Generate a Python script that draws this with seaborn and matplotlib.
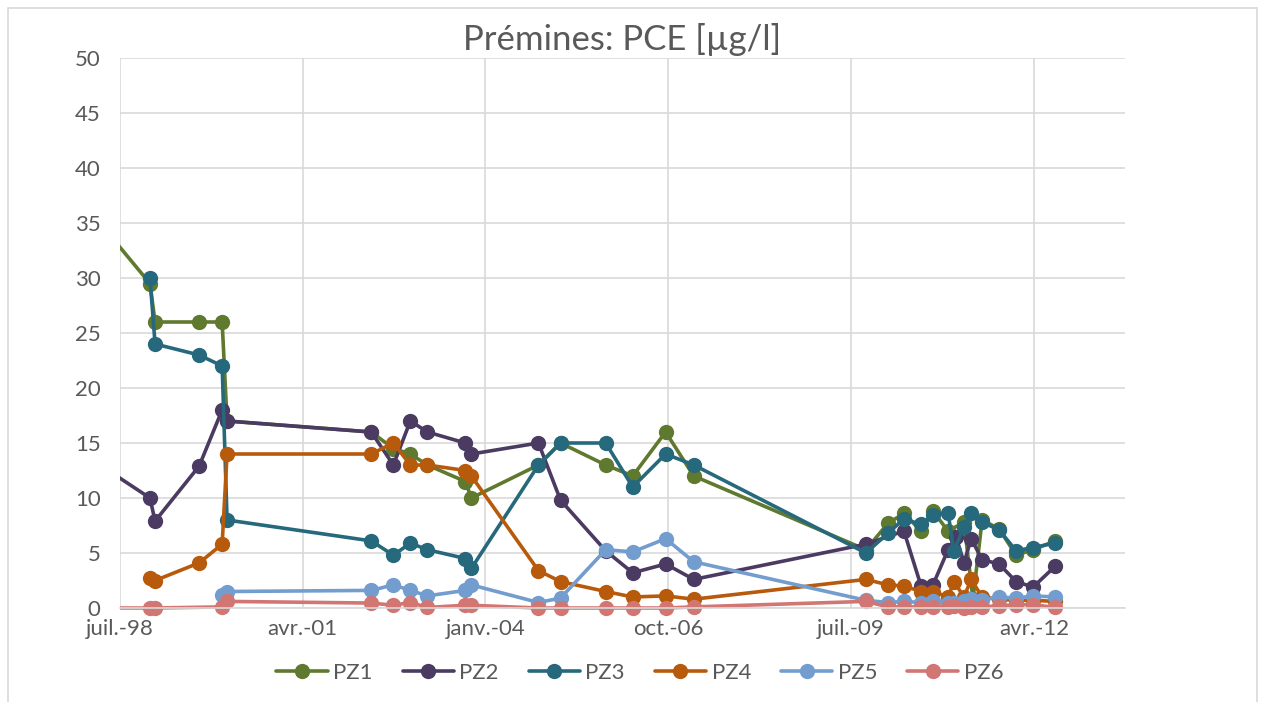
import matplotlib
matplotlib.use("Agg")
import matplotlib.pyplot as plt
import seaborn as sns
import pandas as pd
import numpy as np
from matplotlib.patches import Rectangle

# ---------------- data ----------------
series_names = ["PZ1", "PZ2", "PZ3", "PZ4", "PZ5", "PZ6"]
colors = ["#5F7A2F", "#4B3A62", "#26687C", "#B85A0B", "#739CCF", "#D27674"]

pz1_dates = ["1998-01-05", "1999-01-04", "1999-02-01", "1999-09-30", "2000-02-03", "2000-03-01",
             "2002-04-29", "2002-08-28", "2002-11-29", "2003-03-02", "2003-09-26", "2003-10-29",
             "2004-10-30", "2005-02-28", "2005-11-02", "2006-03-30", "2006-09-26", "2007-02-27",
             "2009-09-26", "2010-01-25", "2010-04-22", "2010-07-25", "2010-09-28", "2010-12-20",
             "2011-03-17", "2011-05-05", "2011-06-24", "2011-09-25", "2011-12-27", "2012-03-29",
             "2012-07-28"]
pz1_values = [36.8, 29.5, 26.0, 26.0, 26.0, 17.0,
              16.0, 14.5, 14.0, 13.0, 11.5, 10.0,
              13.0, 15.0, 13.0, 12.0, 16.0, 12.0,
              5.3, 7.7, 8.6, 7.0, 8.8, 7.0,
              7.8, 0.8, 8.0, 7.2, 4.8, 5.3,
              6.1]

pz2_dates = ["1998-01-05", "1999-01-04", "1999-02-01", "1999-09-30", "2000-02-03", "2000-03-01",
             "2002-04-29", "2002-08-28", "2002-11-29", "2003-03-02", "2003-09-26", "2003-10-29",
             "2004-10-30", "2005-02-28", "2005-11-02", "2006-03-30", "2006-09-26", "2007-02-27",
             "2009-09-26", "2010-04-22", "2010-07-25", "2010-09-28", "2010-12-20", "2011-02-01",
             "2011-03-17", "2011-04-25", "2011-06-24", "2011-09-25", "2011-12-27", "2012-03-29",
             "2012-07-28"]
pz2_values = [14.0, 10.0, 7.9, 12.9, 18.0, 17.0,
              16.0, 13.0, 17.0, 16.0, 15.0, 14.0,
              15.0, 9.8, 5.2, 3.2, 4.0, 2.6,
              5.8, 7.0, 2.0, 2.1, 5.3, 6.5,
              4.1, 6.3, 4.4, 4.0, 2.4, 1.9,
              3.8]

pz3_dates = ["1999-01-04", "1999-02-01", "1999-09-30", "2000-02-03", "2000-03-01",
             "2002-04-29", "2002-08-28", "2002-11-29", "2003-03-02", "2003-09-26", "2003-10-29",
             "2004-10-30", "2005-02-28", "2005-11-02", "2006-03-30", "2006-09-26", "2007-02-27",
             "2009-09-26", "2010-01-25", "2010-04-22", "2010-07-25", "2010-09-28", "2010-12-20",
             "2011-01-21", "2011-03-17", "2011-04-25", "2011-06-24", "2011-09-25", "2011-12-27",
             "2012-03-29", "2012-07-28"]
pz3_values = [30.0, 24.0, 23.0, 22.0, 8.0,
              6.1, 4.8, 5.9, 5.3, 4.5, 3.6,
              13.0, 15.0, 15.0, 11.0, 14.0, 13.0,
              5.0, 6.8, 8.1, 7.6, 8.5, 8.6,
              5.2, 7.4, 8.6, 7.8, 7.1, 5.2,
              5.5, 5.9]

pz4_dates = ["1999-01-04", "1999-02-01", "1999-09-30", "2000-02-03", "2000-03-01",
             "2002-04-29", "2002-08-28", "2002-11-29", "2003-03-02", "2003-09-26", "2003-10-29",
             "2004-10-30", "2005-02-28", "2005-11-02", "2006-03-30", "2006-09-26", "2007-02-27",
             "2009-09-26", "2010-01-25", "2010-04-22", "2010-07-25", "2010-09-28", "2010-12-20",
             "2011-01-21", "2011-03-17", "2011-04-25", "2011-06-24", "2011-09-25", "2011-12-27",
             "2012-03-29", "2012-07-28"]
pz4_values = [2.7, 2.5, 4.1, 5.8, 14.0,
              14.0, 15.0, 13.0, 13.0, 12.5, 12.0,
              3.4, 2.4, 1.5, 1.0, 1.1, 0.8,
              2.6, 2.1, 2.0, 1.5, 1.5, 1.0,
              2.4, 1.0, 2.6, 1.0, 0.8, 0.7,
              0.7, 0.6]

pz5_dates = ["2000-02-03", "2000-03-01",
             "2002-04-29", "2002-08-28", "2002-11-29", "2003-03-02", "2003-09-26", "2003-10-29",
             "2004-10-30", "2005-02-28", "2005-11-02", "2006-03-30", "2006-09-26", "2007-02-27",
             "2009-09-26", "2010-01-25", "2010-04-22", "2010-07-25", "2010-09-28", "2010-12-20",
             "2011-01-21", "2011-03-17", "2011-04-25", "2011-06-24", "2011-09-25", "2011-12-27",
             "2012-03-29", "2012-07-28"]
pz5_values = [1.2, 1.5,
              1.6, 2.1, 1.6, 1.1, 1.6, 2.1,
              0.5, 0.9, 5.3, 5.1, 6.3, 4.2,
              0.7, 0.5, 0.6, 0.5, 0.6, 0.5,
              0.5, 0.6, 0.8, 0.7, 1.0, 0.9,
              1.1, 1.0]

pz6_dates = ["1998-01-05", "1999-01-04", "1999-02-01", "2000-02-03", "2000-03-01",
             "2002-04-29", "2002-08-28", "2002-11-29", "2003-03-02", "2003-09-26", "2003-10-29",
             "2004-10-30", "2005-02-28", "2005-11-02", "2006-03-30", "2006-09-26", "2007-02-27",
             "2009-09-26", "2010-01-25", "2010-04-22", "2010-07-25", "2010-09-28", "2010-12-20",
             "2011-01-21", "2011-03-17", "2011-04-25", "2011-06-24", "2011-09-25", "2011-12-27",
             "2012-03-29", "2012-07-28"]
pz6_values = [0.0, 0.0, 0.0, 0.1, 0.6,
              0.45, 0.25, 0.5, 0.05, 0.25, 0.25,
              0.0, 0.0, 0.0, 0.0, 0.0, 0.1,
              0.6, 0.1, 0.1, 0.1, 0.1, 0.1,
              0.2, 0.0, 0.1, 0.1, 0.2, 0.3,
              0.3, 0.05]

tick_dates = ["1998-07-24", "2001-04-19", "2004-01-14", "2006-10-11", "2009-07-07", "2012-04-02"]
tick_labels = ["juil.-98", "avr.-01", "janv.-04", "oct.-06", "juil.-09", "avr.-12"]
x_min, x_max = "1998-07-24", "2013-08-14"
title = "Prémines: PCE [µg/l]"

all_dates = [pz1_dates, pz2_dates, pz3_dates, pz4_dates, pz5_dates, pz6_dates]
all_values = [pz1_values, pz2_values, pz3_values, pz4_values, pz5_values, pz6_values]

frames = []
for name, d, v in zip(series_names, all_dates, all_values):
    frames.append(pd.DataFrame({"date": pd.to_datetime(d), "value": v, "series": name}))
df = pd.concat(frames, ignore_index=True)

# ---------------- style ----------------
sns.set_theme(style="white")
plt.rcParams["font.family"] = ["Lato", "DejaVu Sans"]
text_color = "#595959"
grid_color = "#D9D9D9"

fig = plt.figure(figsize=(12.64, 7.02), dpi=100)
ax = fig.add_axes([120 / 1264, 1 - 608 / 702, (1125 - 120) / 1264, (608 - 58) / 702])

for name, col in zip(series_names, colors):
    sub = df[df["series"] == name]
    sns.lineplot(data=sub, x="date", y="value", ax=ax, color=col, marker="o",
                 markersize=11, linewidth=2.6, markeredgewidth=0, sort=True,
                 estimator=None, label=name)

# clip only horizontally (markers at 0 stay whole, points before the axis start are hidden)
clip_rect = Rectangle((0, -0.2), 1.0, 1.4, transform=ax.transAxes, facecolor="none",
                      edgecolor="none")
ax.add_patch(clip_rect)
for ln in ax.get_lines():
    ln.set_clip_path(clip_rect)

ax.set_xlim(pd.Timestamp(x_min), pd.Timestamp(x_max))
ax.set_ylim(0, 50)
ax.set_yticks(np.arange(0, 51, 5))
ax.set_xticks(pd.to_datetime(tick_dates))
ax.set_xticklabels(tick_labels)
ax.set_xlabel("")
ax.set_ylabel("")

ax.grid(True, color=grid_color, linewidth=1.2)
ax.set_axisbelow(True)
for s in ["top", "right", "left"]:
    ax.spines[s].set_visible(False)
ax.spines["bottom"].set_color(grid_color)
ax.spines["bottom"].set_linewidth(1.2)
ax.tick_params(axis="both", length=0, labelsize=16, colors=text_color)
ax.tick_params(axis="y", pad=14)
ax.tick_params(axis="x", pad=8)

ax.set_title(title, fontsize=25, color=text_color, pad=6, fontweight="normal")

ax.get_legend().remove()
handles, labels = ax.get_legend_handles_labels()
fig.legend(handles, labels, loc="center", bbox_to_anchor=(640 / 1264, 1 - 673 / 702),
           ncol=6, frameon=False, fontsize=16, labelcolor=text_color,
           handlelength=2.3, columnspacing=1.35, handletextpad=0.25)

fig.patches.append(Rectangle((8 / 1264, -0.1), (1257 - 8) / 1264, (1 - 8 / 702) + 0.1,
                             transform=fig.transFigure, fill=False,
                             edgecolor=grid_color, linewidth=1.2))

fig.savefig("out.png", dpi=100)
